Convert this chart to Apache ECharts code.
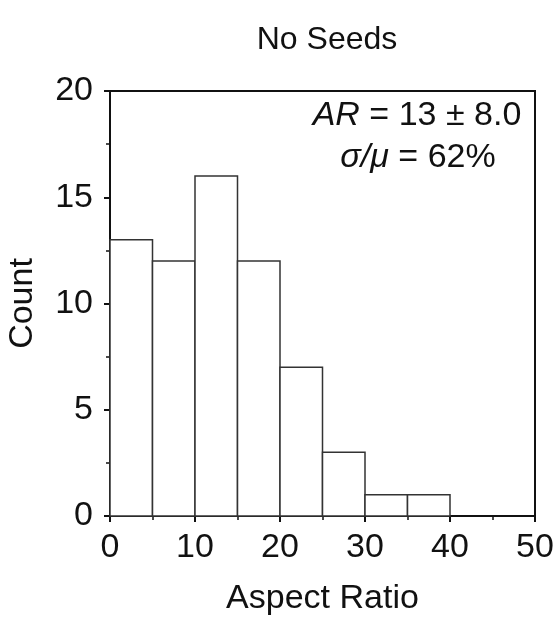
<!DOCTYPE html>
<html>
<head>
<meta charset="utf-8">
<script src="https://cdn.jsdelivr.net/npm/echarts@6/dist/echarts.min.js"></script>
<style>
  html, body { margin: 0; padding: 0; background: #fff; }
  #chart { width: 559px; height: 618px; }
</style>
</head>
<body>
<div id="chart"></div>
<script>
// histogram bins (width 5) and counts
const binStarts = [0, 5, 10, 15, 20, 25, 30, 35];
const binWidth = 5;
const counts = [13, 12, 16, 12, 7, 3, 1, 1];
const xTicks = [0, 10, 20, 30, 40, 50];
const yTicks = [0, 5, 10, 15, 20];

const font = '"Liberation Sans", Arial, sans-serif';
const ink = '#111';

const chart = echarts.init(document.getElementById('chart'));

const data = binStarts.map((s, i) => [s, s + binWidth, counts[i]]);

const option = {
  animation: false,
  title: {
    text: 'No Seeds',
    left: 322,
    top: 19,
    textAlign: 'center',
    textStyle: { fontFamily: font, fontSize: 32, fontWeight: 'normal', color: ink }
  },
  grid: {
    left: 110, right: 24, top: 91, bottom: 102,
    outerBoundsMode: 'none',
    show: true, borderColor: ink, borderWidth: 2
  },
  xAxis: {
    type: 'value',
    min: 0, max: 50, interval: 10,
    name: 'Aspect Ratio',
    nameLocation: 'middle',
    nameGap: 66,
    nameTextStyle: { fontFamily: font, fontSize: 34, color: ink },
    axisLine: { show: true, lineStyle: { color: ink, width: 2 } },
    axisTick: { show: true, inside: false, length: 6, lineStyle: { color: ink, width: 2 } },
    minorTick: { show: true, splitNumber: 2, length: 4, lineStyle: { color: ink, width: 1.5 } },
    axisLabel: {
      fontFamily: font, fontSize: 34, color: ink, margin: 15,
      formatter: v => xTicks.includes(v) ? String(v) : ''
    },
    splitLine: { show: false }
  },
  yAxis: {
    type: 'value',
    min: 0, max: 20, interval: 5,
    name: 'Count',
    nameLocation: 'middle',
    nameGap: 70,
    nameTextStyle: { fontFamily: font, fontSize: 34, color: ink },
    axisLine: { show: true, lineStyle: { color: ink, width: 2 } },
    axisTick: { show: true, inside: false, length: 6, lineStyle: { color: ink, width: 2 } },
    minorTick: { show: true, splitNumber: 2, length: 4, lineStyle: { color: ink, width: 1.5 } },
    axisLabel: {
      fontFamily: font, fontSize: 34, color: ink, margin: 17,
      formatter: v => yTicks.includes(v) ? String(v) : ''
    },
    splitLine: { show: false }
  },
  series: [{
    type: 'custom',
    data: data,
    encode: { x: [0, 1], y: 2 },
    renderItem: function (params, api) {
      const p0 = api.coord([api.value(0), 0]);
      const p1 = api.coord([api.value(1), api.value(2)]);
      return {
        type: 'rect',
        shape: { x: p0[0], y: p1[1], width: p1[0] - p0[0], height: p0[1] - p1[1] },
        style: { fill: '#fff', stroke: '#333', lineWidth: 1.5 }
      };
    },
    z: 1
  }],
  graphic: [{
    type: 'text',
    x: 417,
    y: 116,
    z: 10,
    style: {
      text: '{i|AR} = 13 \u00b1 8.0',
      align: 'center',
      verticalAlign: 'middle',
      fontFamily: font,
      fontSize: 34,
      fill: ink,
      rich: { i: { fontStyle: 'italic', fontFamily: font, fontSize: 34 } }
    }
  }, {
    type: 'text',
    x: 418,
    y: 158,
    z: 10,
    style: {
      text: '{i|\u03c3/\u03bc} = 62%',
      align: 'center',
      verticalAlign: 'middle',
      fontFamily: font,
      fontSize: 34,
      fill: ink,
      rich: { i: { fontStyle: 'italic', fontFamily: font, fontSize: 34 } }
    }
  }]
};

chart.setOption(option);
</script>
</body>
</html>
